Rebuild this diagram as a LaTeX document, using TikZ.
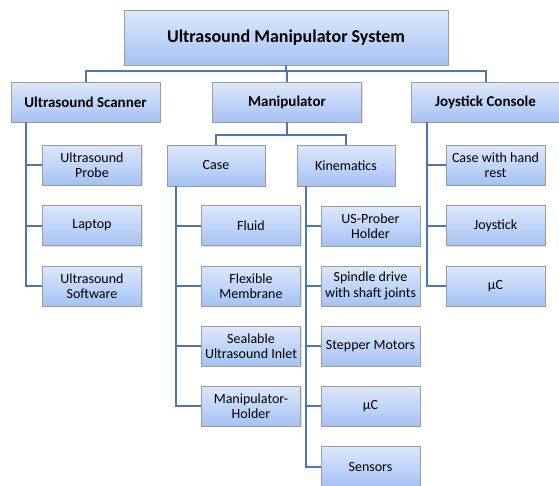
\documentclass[tikz,border=0pt]{standalone}
\usepackage{fontspec}
\setmainfont{Carlito}
\usetikzlibrary{positioning, shadows}
\definecolor{boxtop}{HTML}{DDE8FB}
\definecolor{boxbot}{HTML}{A5C2F3}
\definecolor{boxline}{HTML}{9C9C9C}
\definecolor{linkblue}{HTML}{4D77B0}
\tikzset{
	box/.style={rectangle, draw=boxline, line width=0.8pt, top color=boxtop, bottom color=boxbot,
		drop shadow={opacity=0.25, shadow xshift=1.2pt, shadow yshift=-1.2pt},
		inner sep=0pt, align=center, text centered, font=\fontsize{14}{15.5}\selectfont},
	rootbox/.style={box, minimum width=324pt, minimum height=55pt, font=\fontsize{18}{20}\selectfont\bfseries},
	groupbox/.style={box, minimum width=149pt, minimum height=40pt, font=\fontsize{15}{17}\selectfont\bfseries},
	subbox/.style={box, minimum width=98pt, minimum height=41pt},
	leaf/.style={box, minimum width=99pt, minimum height=40pt},
	link/.style={draw=linkblue, line width=2pt}
}
\begin{document}
\begin{tikzpicture}[x=1pt, y=-1pt]
	\useasboundingbox (0,0) rectangle (559,485);
	% Nodes
	\node (UMS) [rootbox] at (286,37.5) {Ultrasound Manipulator System};
	\node (Scan) [groupbox] at (85.5,102) {Ultrasound Scanner};
	\node (Manip) [groupbox] at (287,102) {Manipulator};
	\node (Joy) [groupbox] at (485.5,102) {Joystick Console};
	
	\node (Probe) [leaf] at (92,165) {Ultrasound\\Probe};
	\node (Laptop) [leaf] at (92,225.5) {Laptop};
	\node (Soft) [leaf] at (92,286) {Ultrasound\\Software};
	
	\node (Case) [subbox] at (216,165.5) {Case};
	\node (Kin) [subbox] at (346,165.5) {Kinematics};
	
	\node (Fluid) [leaf] at (251,225.5) {Fluid};
	\node (Memb) [leaf] at (251,286) {Flexible\\Membrane};
	\node (Inlet) [leaf] at (251,346) {Sealable\\Ultrasound Inlet};
	\node (Holder) [leaf] at (251,406) {Manipulator-\\Holder};
	
	\node (Prober) [leaf] at (370.5,226) {US-Prober\\Holder};
	\node (Spindle) [leaf] at (370.5,286) {Spindle drive\\with shaft joints};
	\node (Stepper) [leaf] at (370.5,346) {Stepper Motors};
	\node (MuC) [leaf] at (370.5,406) {µC};
	\node (Sens) [leaf] at (370.5,466.5) {Sensors};
	
	\node (Rest) [leaf] at (495.5,165) {Case with hand\\rest};
	\node (Stick) [leaf] at (495.5,225.5) {Joystick};
	\node (JoyMuC) [leaf] at (495.5,286) {µC};
	
	\coordinate (Bus) at (0,71);
	\coordinate (ManipBus) at (0,134.5);
	
	% Lines
	\draw [link] (UMS.south) -- (UMS.south |- Bus) -| (Scan.north);
	\draw [link] (UMS.south |- Bus) -| (Manip.north);
	\draw [link] (UMS.south |- Bus) -| (Joy.north);
	
	\draw [link] ([xshift=15.5pt]Scan.south west) |- (Probe.west);
	\draw [link] ([xshift=15.5pt]Scan.south west) |- (Laptop.west);
	\draw [link] ([xshift=15.5pt]Scan.south west) |- (Soft.west);
	
	\draw [link] (Manip.south) -- (Manip.south |- ManipBus) -| (Case.north);
	\draw [link] (Manip.south |- ManipBus) -| (Kin.north);
	
	\foreach \leafname in {Fluid, Memb, Inlet, Holder}
		\draw [link] ([xshift=9pt]Case.south west) |- (\leafname.west);
	\foreach \leafname in {Prober, Spindle, Stepper, MuC, Sens}
		\draw [link] ([xshift=9pt]Kin.south west) |- (\leafname.west);
	\foreach \leafname in {Rest, Stick, JoyMuC}
		\draw [link] ([xshift=16pt]Joy.south west) |- (\leafname.west);
\end{tikzpicture}
\end{document}
